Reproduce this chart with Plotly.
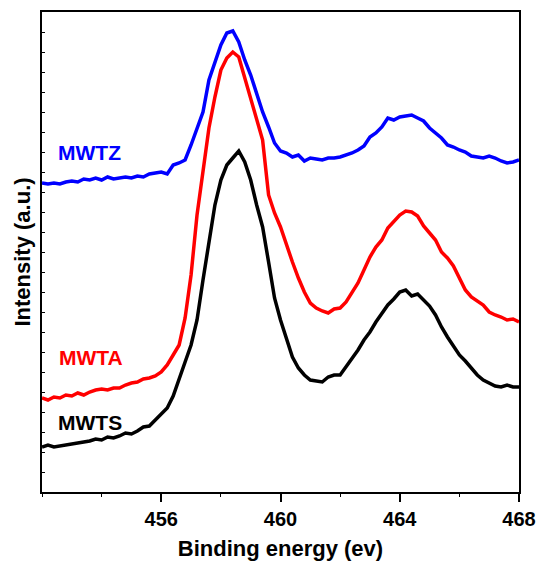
import numpy as np
import plotly.graph_objects as go

# Binding energy grid (eV), 0.2 eV step
energy = np.round(np.arange(452.0, 468.001, 0.2), 1)

# Ti 2p spectra (arbitrary intensity units, vertically offset)
mwtz = [15.45, 15.4, 15.45, 15.4, 15.5, 15.55, 15.5, 15.65, 15.6, 15.7,
        15.6, 15.75, 15.65, 15.7, 15.75, 15.7, 15.8, 15.75, 15.9, 15.95,
        16.0, 15.9, 16.35, 16.45, 16.6, 17.35, 18.2, 19.0, 20.6, 21.5,
        22.35, 22.95, 23.05, 22.5, 21.6, 20.85, 19.85, 19.0, 18.25, 17.45,
        17.05, 16.95, 16.75, 16.85, 16.55, 16.7, 16.65, 16.6, 16.7, 16.7,
        16.75, 16.85, 16.95, 17.1, 17.3, 17.75, 17.95, 18.25, 18.7, 18.6,
        18.75, 18.8, 18.85, 18.7, 18.55, 18.2, 17.95, 17.7, 17.35, 17.25,
        17.1, 17.0, 16.8, 16.75, 16.7, 16.8, 16.7, 16.55, 16.45, 16.5,
        16.6]

mwta = [4.7, 4.6, 4.75, 4.7, 4.85, 4.8, 4.95, 4.85, 5.0, 5.1,
        5.15, 5.1, 5.2, 5.2, 5.35, 5.45, 5.5, 5.65, 5.7, 5.8,
        6.0, 6.35, 6.85, 7.35, 8.7, 10.85, 13.85, 16.1, 18.2, 19.75,
        21.1, 21.7, 22.0, 21.75, 20.7, 19.75, 18.6, 17.6, 14.85, 13.95,
        13.25, 12.35, 11.5, 10.7, 10.0, 9.45, 9.2, 9.05, 8.95, 9.15,
        9.2, 9.5, 9.95, 10.45, 11.1, 11.75, 12.25, 12.6, 13.2, 13.5,
        13.85, 14.05, 14.0, 13.8, 13.3, 12.95, 12.6, 12.0, 11.7, 11.3,
        10.7, 10.1, 9.75, 9.55, 9.35, 9.0, 8.85, 8.75, 8.6, 8.65,
        8.5]

mwts = [2.25, 2.35, 2.25, 2.3, 2.35, 2.4, 2.45, 2.5, 2.55, 2.65,
        2.6, 2.75, 2.7, 2.8, 2.95, 2.9, 3.05, 3.25, 3.3, 3.6,
        3.9, 4.2, 4.8, 5.7, 6.5, 7.35, 8.6, 10.6, 12.6, 14.35,
        15.6, 16.35, 16.7, 17.05, 16.5, 15.6, 14.35, 13.25, 11.5, 9.7,
        8.6, 7.6, 6.75, 6.2, 5.85, 5.6, 5.55, 5.5, 5.75, 5.85,
        5.85, 6.25, 6.7, 7.1, 7.6, 8.0, 8.5, 8.95, 9.35, 9.65,
        10.0, 10.1, 9.8, 9.9, 9.6, 9.3, 8.85, 8.25, 7.75, 7.3,
        6.85, 6.55, 6.2, 5.85, 5.6, 5.45, 5.3, 5.25, 5.35, 5.25,
        5.25]

x_ticks = [456, 460, 464, 468]

series = [
    ("MWTZ", mwtz, "#0000ff", 453.6, 17.0),
    ("MWTA", mwta, "#ff0000", 453.65, 6.75),
    ("MWTS", mwts, "#000000", 453.6, 3.5),
]

FONT = "Liberation Sans, Arial, sans-serif"

fig = go.Figure()
for name, vals, color, lx, ly in series:
    fig.add_trace(go.Scatter(
        x=energy, y=vals, mode="lines", name=name,
        line=dict(color=color, width=3.5), showlegend=False,
    ))
    fig.add_annotation(
        x=lx, y=ly, text=f"<b>{name}</b>", showarrow=False,
        font=dict(family=FONT, size=21, color=color),
        xanchor="center", yanchor="middle",
    )

fig.update_layout(
    width=536, height=562,
    margin=dict(l=42, r=17, t=12, b=70),
    paper_bgcolor="white", plot_bgcolor="white",
    font=dict(family=FONT, color="black"),
)

fig.update_xaxes(
    range=[452, 468], showgrid=False, zeroline=False, automargin=False,
    showline=True, linecolor="black", linewidth=1.5, mirror=True,
    ticks="outside", tickvals=x_ticks, ticktext=[f"<b>{v}</b>" for v in x_ticks],
    ticklen=8, tickwidth=1.5, tickcolor="black",
    minor=dict(ticks="outside", dtick=2, tick0=452, ticklen=3,
               tickcolor="black", tickwidth=1),
    tickfont=dict(family=FONT, size=20, color="black"),
    title=dict(text="<b>Binding energy (ev)</b>",
               font=dict(family=FONT, size=22, color="black"), standoff=12),
)

fig.update_yaxes(
    range=[0, 24], showgrid=False, zeroline=False, automargin=False,
    showline=True, linecolor="black", linewidth=1.5, mirror=True,
    ticks="inside", dtick=1, ticklen=3, tickwidth=1, tickcolor="black",
    showticklabels=False,
    title=dict(text="<b>Intensity (a.u.)</b>",
               font=dict(family=FONT, size=22, color="black"), standoff=4),
)

fig.write_html("out.html")
